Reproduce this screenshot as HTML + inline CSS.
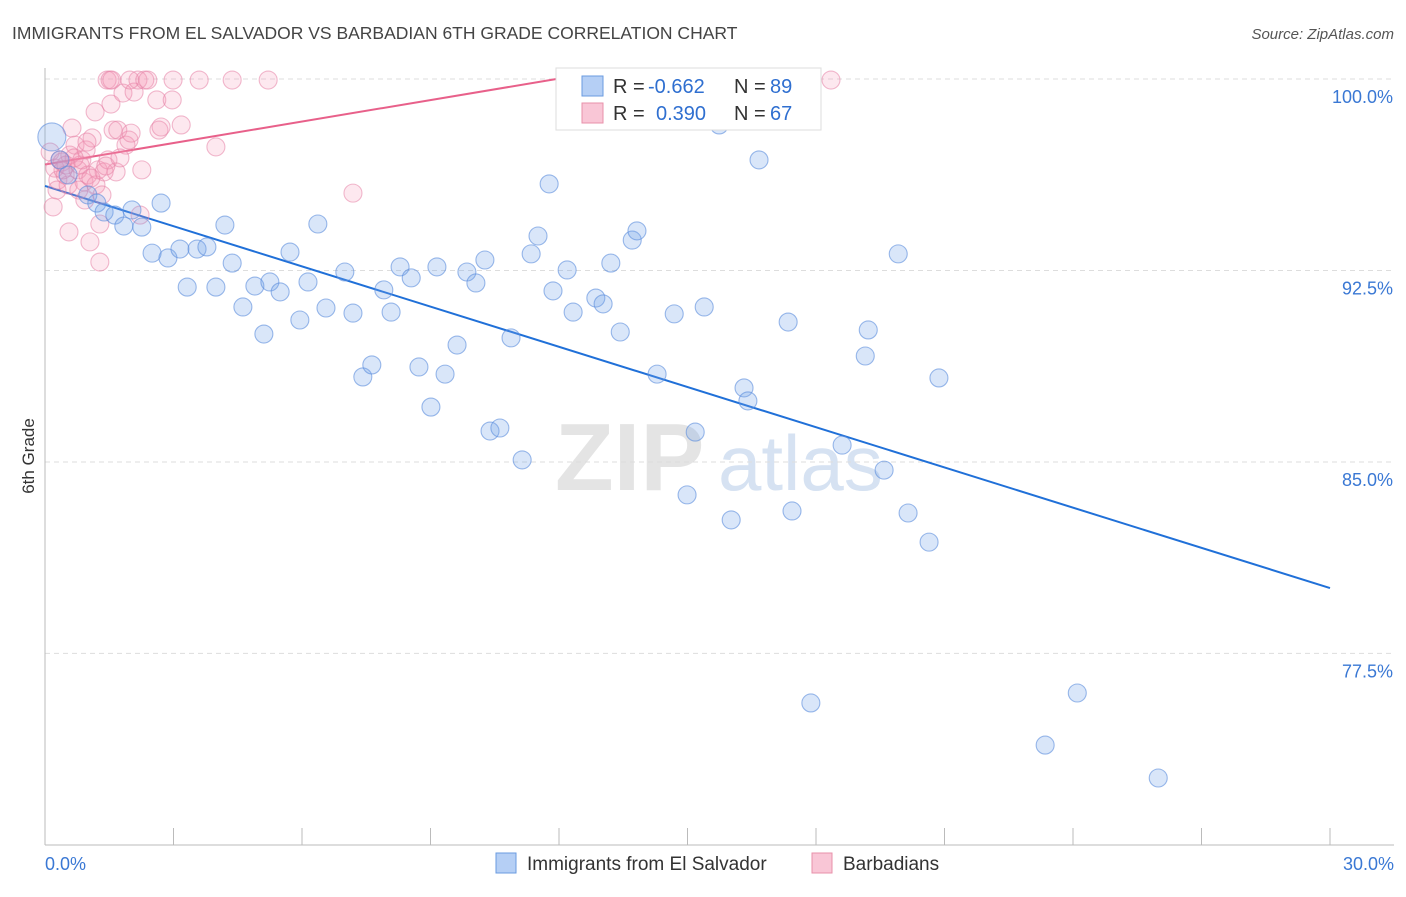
<!DOCTYPE html>
<html><head><meta charset="utf-8"><style>
body{margin:0;background:#fff;font-family:"Liberation Sans",sans-serif;}
svg text{font-family:"Liberation Sans",sans-serif;}
</style></head><body>
<svg id="chart" width="1406" height="892" viewBox="0 0 1406 892" xmlns="http://www.w3.org/2000/svg">
<text x="12" y="39" font-size="17.5" fill="#444">IMMIGRANTS FROM EL SALVADOR VS BARBADIAN 6TH GRADE CORRELATION CHART</text>
<text x="1394" y="39" font-size="15" fill="#555" text-anchor="end" font-style="italic">Source: ZipAtlas.com</text>
<text x="34" y="456" font-size="17" fill="#333" text-anchor="middle" transform="rotate(-90 34 456)">6th Grade</text>
<g><text x="555" y="490" font-size="96" fill="#e4e4e4" font-family="Liberation Serif" font-weight="bold">ZIP</text><text x="718" y="490" font-size="78" fill="#d6e2f2">atlas</text></g>
<g id="grid"></g><g id="axes"></g>
<g id="lines"></g>
<g id="pts"></g>
<g>
<rect x="556" y="68" width="265" height="62" fill="#fff" stroke="#ddd"/>
<rect x="582" y="76" width="21" height="20" fill="#b5cff5" stroke="#6a9be0"/>
<text x="613" y="93" font-size="20" fill="#333">R = </text><text x="648" y="93" font-size="20" fill="#2f6fd0">-0.662</text>
<text x="734" y="93" font-size="20" fill="#333">N = </text><text x="770" y="93" font-size="20" fill="#2f6fd0">89</text>
<rect x="582" y="103" width="21" height="20" fill="#f9c6d6" stroke="#e890aa"/>
<text x="613" y="120" font-size="20" fill="#333">R = </text><text x="656" y="120" font-size="20" fill="#2f6fd0">0.390</text>
<text x="734" y="120" font-size="20" fill="#333">N = </text><text x="770" y="120" font-size="20" fill="#2f6fd0">67</text>
</g>
<g>
<rect x="496" y="853" width="20" height="20" fill="#b5cff5" stroke="#6a9be0"/>
<text x="527" y="870" font-size="19" fill="#333">Immigrants from El Salvador</text>
<rect x="812" y="853" width="20" height="20" fill="#f9c6d6" stroke="#e890aa"/>
<text x="843" y="870" font-size="19" fill="#333">Barbadians</text>
</g>
</svg>
<script>
const blueX=[.16,.35,.54,1.00,1.21,1.38,1.63,1.84,2.03,2.26,2.50,2.71,2.87,3.15,3.32,3.55,3.78,3.99,4.20,4.37,4.62,4.90,5.11,5.25,5.49,5.72,5.95,6.14,6.37,6.56,7.00,7.19,7.42,7.63,7.91,8.08,8.29,8.55,8.73,9.01,9.15,9.34,9.62,9.85,10.06,10.27,10.39,10.62,10.88,11.14,11.35,11.51,11.77,11.86,12.19,12.33,12.86,13.03,13.21,13.43,13.71,13.82,14.29,14.69,14.99,15.18,15.39,15.74,16.02,16.32,16.41,16.67,17.35,17.44,17.88,18.61,19.15,19.22,19.59,19.92,20.15,20.64,20.87,23.35,24.10,25.99,12.63];
const blueY=[97.73,96.83,96.24,95.46,95.14,94.79,94.67,94.24,94.87,94.20,93.18,95.14,92.99,93.34,91.85,93.34,93.42,91.85,94.28,92.79,91.07,91.89,90.01,92.05,91.66,93.22,90.56,92.05,94.32,91.03,92.44,90.83,88.33,88.80,91.74,90.87,92.64,92.21,88.72,87.15,92.64,88.44,89.58,92.44,92.01,92.91,86.21,86.33,89.86,85.08,93.15,93.85,95.89,91.70,92.52,90.87,91.42,91.19,92.79,90.09,93.69,94.05,88.44,90.80,83.71,86.17,91.07,98.20,82.73,87.90,87.39,96.83,90.48,83.08,75.56,85.66,89.15,90.17,84.68,93.15,83.00,81.86,88.29,73.91,75.95,72.62,99.65];
const pinkX=[.12,.23,.30,.35,.40,.47,.54,.58,.63,.70,.77,.82,.86,.91,.96,1.00,1.05,1.10,1.17,1.19,1.24,1.28,1.33,1.38,1.45,1.47,1.52,1.54,1.59,1.66,1.70,1.82,1.89,1.96,2.01,2.08,2.17,2.22,2.26,2.33,2.61,2.66,2.71,2.97,2.99,3.18,3.60,3.99,4.37,5.21,7.19,18.35,.19,.56,1.28,.98,.68,.42,.28,.49,.79,1.07,1.42,1.75,.93,1.98,2.40,1.56];
const pinkY=[97.14,96.51,96.04,96.83,96.75,96.24,95.85,97.02,98.08,97.41,96.44,96.63,96.83,95.97,97.22,96.24,93.62,97.69,98.71,95.85,96.44,94.32,95.46,96.36,99.96,96.83,99.96,99.02,98.00,96.36,98.00,99.45,97.41,97.61,97.88,99.49,99.96,94.67,96.44,99.96,99.18,98.00,98.12,99.18,99.96,98.20,99.96,97.34,99.96,99.96,95.53,99.96,94.99,94.01,92.83,97.53,96.91,96.44,95.65,96.63,95.65,96.12,96.59,96.91,95.26,99.96,99.96,99.96];
const blueTrend=[[0,95.81],[30,80.06]];
const pinkTrend=[[0,96.65],[11.94,100]];
const yTicks=[100,92.5,85,77.5];
const yTickLabels=["100.0%","92.5%","85.0%","77.5%"];
const xTicks=[0,3,6,9,12,15,18,21,24,27,30];

const X0=45,X1=1330,YTOP=79,PXPER=25.53;
const xs=v=>X0+(v/30)*(X1-X0);
const ys=v=>YTOP+(100-v)*PXPER;
const NS="http://www.w3.org/2000/svg";
function mk(tag,parent,attrs){const e=document.createElementNS(NS,tag);for(const k in attrs)e.setAttribute(k,attrs[k]);document.getElementById(parent).appendChild(e);return e;}

yTicks.forEach((t,i)=>{
 const l=mk('line','grid',{x1:X0,x2:1394,y1:ys(t),y2:ys(t),stroke:'#ddd','stroke-dasharray':'5,4'});
 
 
 const tx=mk('text','axes',{x:1393,y:ys(t)+24,'font-size':18,fill:'#3a78d4','text-anchor':'end'});
 tx.textContent=yTickLabels[i];
 
 
});
let a=mk('line','axes',{x1:X0,x2:X0,y1:68,y2:845,stroke:'#bbb'});


a=mk('line','axes',{x1:X0,x2:1394,y1:845,y2:845,stroke:'#bbb'});


xTicks.forEach(t=>{
 const l=mk('line','axes',{x1:xs(t),x2:xs(t),y1:828,y2:845,stroke:'#bbb'});
 
 
});
let t0=mk('text','axes',{x:45,y:870,'font-size':18,fill:'#3a78d4'});t0.textContent='0.0%';


let t1=mk('text','axes',{x:1394,y:870,'font-size':18,fill:'#3a78d4','text-anchor':'end'});t1.textContent='30.0%';



pinkX.forEach((x,i)=>{
 const c=mk('circle','pts',{cx:xs(x),cy:ys(pinkY[i]),r:9,fill:'rgba(244,150,180,0.22)',stroke:'rgba(230,130,165,0.55)','stroke-width':1.1});
 
 
});
blueX.forEach((x,i)=>{
 const c=mk('circle','pts',{cx:xs(x),cy:ys(blueY[i]),r:i===0?14:9,fill:'rgba(120,165,235,0.28)',stroke:'rgba(90,140,220,0.6)','stroke-width':1.1});
 
 
});
let bl=mk('line','lines',{x1:xs(blueTrend[0][0]),y1:ys(blueTrend[0][1]),x2:xs(blueTrend[1][0]),y2:ys(blueTrend[1][1]),stroke:'#2070d8','stroke-width':2});


let pl=mk('line','lines',{x1:xs(pinkTrend[0][0]),y1:ys(pinkTrend[0][1]),x2:xs(pinkTrend[1][0]),y2:ys(pinkTrend[1][1]),stroke:'#e8608a','stroke-width':2});


</script>
</body></html>
